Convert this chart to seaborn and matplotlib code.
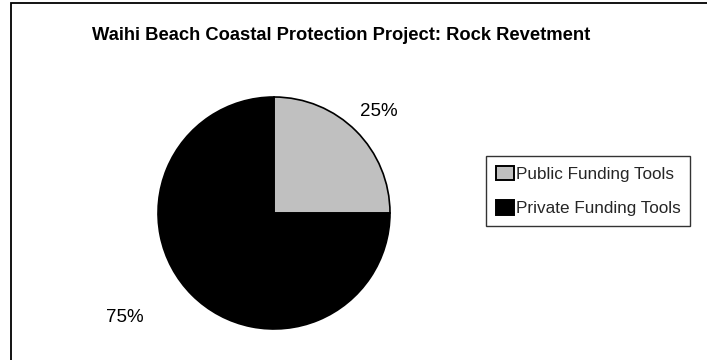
import matplotlib
matplotlib.use("Agg")
import matplotlib.pyplot as plt
import seaborn as sns
from matplotlib.patches import Rectangle
from matplotlib import font_manager

categories = ["Public Funding Tools", "Private Funding Tools"]
values = [25, 75]
pct_labels = ["25%", "75%"]
colors = ["#c0c0c0", "#000000"]
title = "Waihi Beach Coastal Protection Project: Rock Revetment"

sns.set_theme(style="white")
names = {f.name for f in font_manager.fontManager.ttflist}
fam = "Liberation Sans Narrow" if "Liberation Sans Narrow" in names else "Liberation Sans"
plt.rcParams["font.family"] = [fam, "DejaVu Sans"]

W, H = 707, 360
fig = plt.figure(figsize=(W / 100, H / 100), dpi=100)
fig.patch.set_facecolor("white")

# outer chart border (extends past right/bottom edges)
fig.patches.append(Rectangle((10.5 / W, -0.1), 1.2, (H - 3.5) / H + 0.1,
                             transform=fig.transFigure, fill=False,
                             edgecolor="black", linewidth=1.3))

fig.text(341 / W, 1 - 35 / H, title, ha="center", va="center",
         fontsize=13.2, fontweight="bold", color="black")

cx, cy, r = 274, 213, 116
ax = fig.add_axes([(cx - r) / W, (H - cy - r) / H, 2 * r / W, 2 * r / H])
wedges, _ = ax.pie(values, colors=colors, startangle=90, counterclock=False,
                   wedgeprops=dict(edgecolor="black", linewidth=1.2))
ax.set_xlim(-1, 1)
ax.set_ylim(-1, 1)
ax.set_aspect("equal")
ax.axis("off")

label_pos = [(105 / r, 101 / r), (-149 / r, -105 / r)]
for lab, (lx, ly) in zip(pct_labels, label_pos):
    ax.text(lx, ly, lab, ha="center", va="center", fontsize=13.5, color="black",
            clip_on=False)

handles = [Rectangle((0, 0), 1, 1, facecolor=c, edgecolor="black", linewidth=1.4)
           for c in colors]
leg = fig.legend(handles, categories, loc="center",
                 bbox_to_anchor=(588 / W, 1 - 191 / H), fontsize=12.3,
                 frameon=True, fancybox=False, edgecolor="black",
                 handlelength=1.05, handleheight=0.9, handletextpad=0.12,
                 borderpad=0.55, labelspacing=1.1, borderaxespad=0)
leg.get_frame().set_linewidth(1.0)

fig.savefig("out.png", dpi=100)
